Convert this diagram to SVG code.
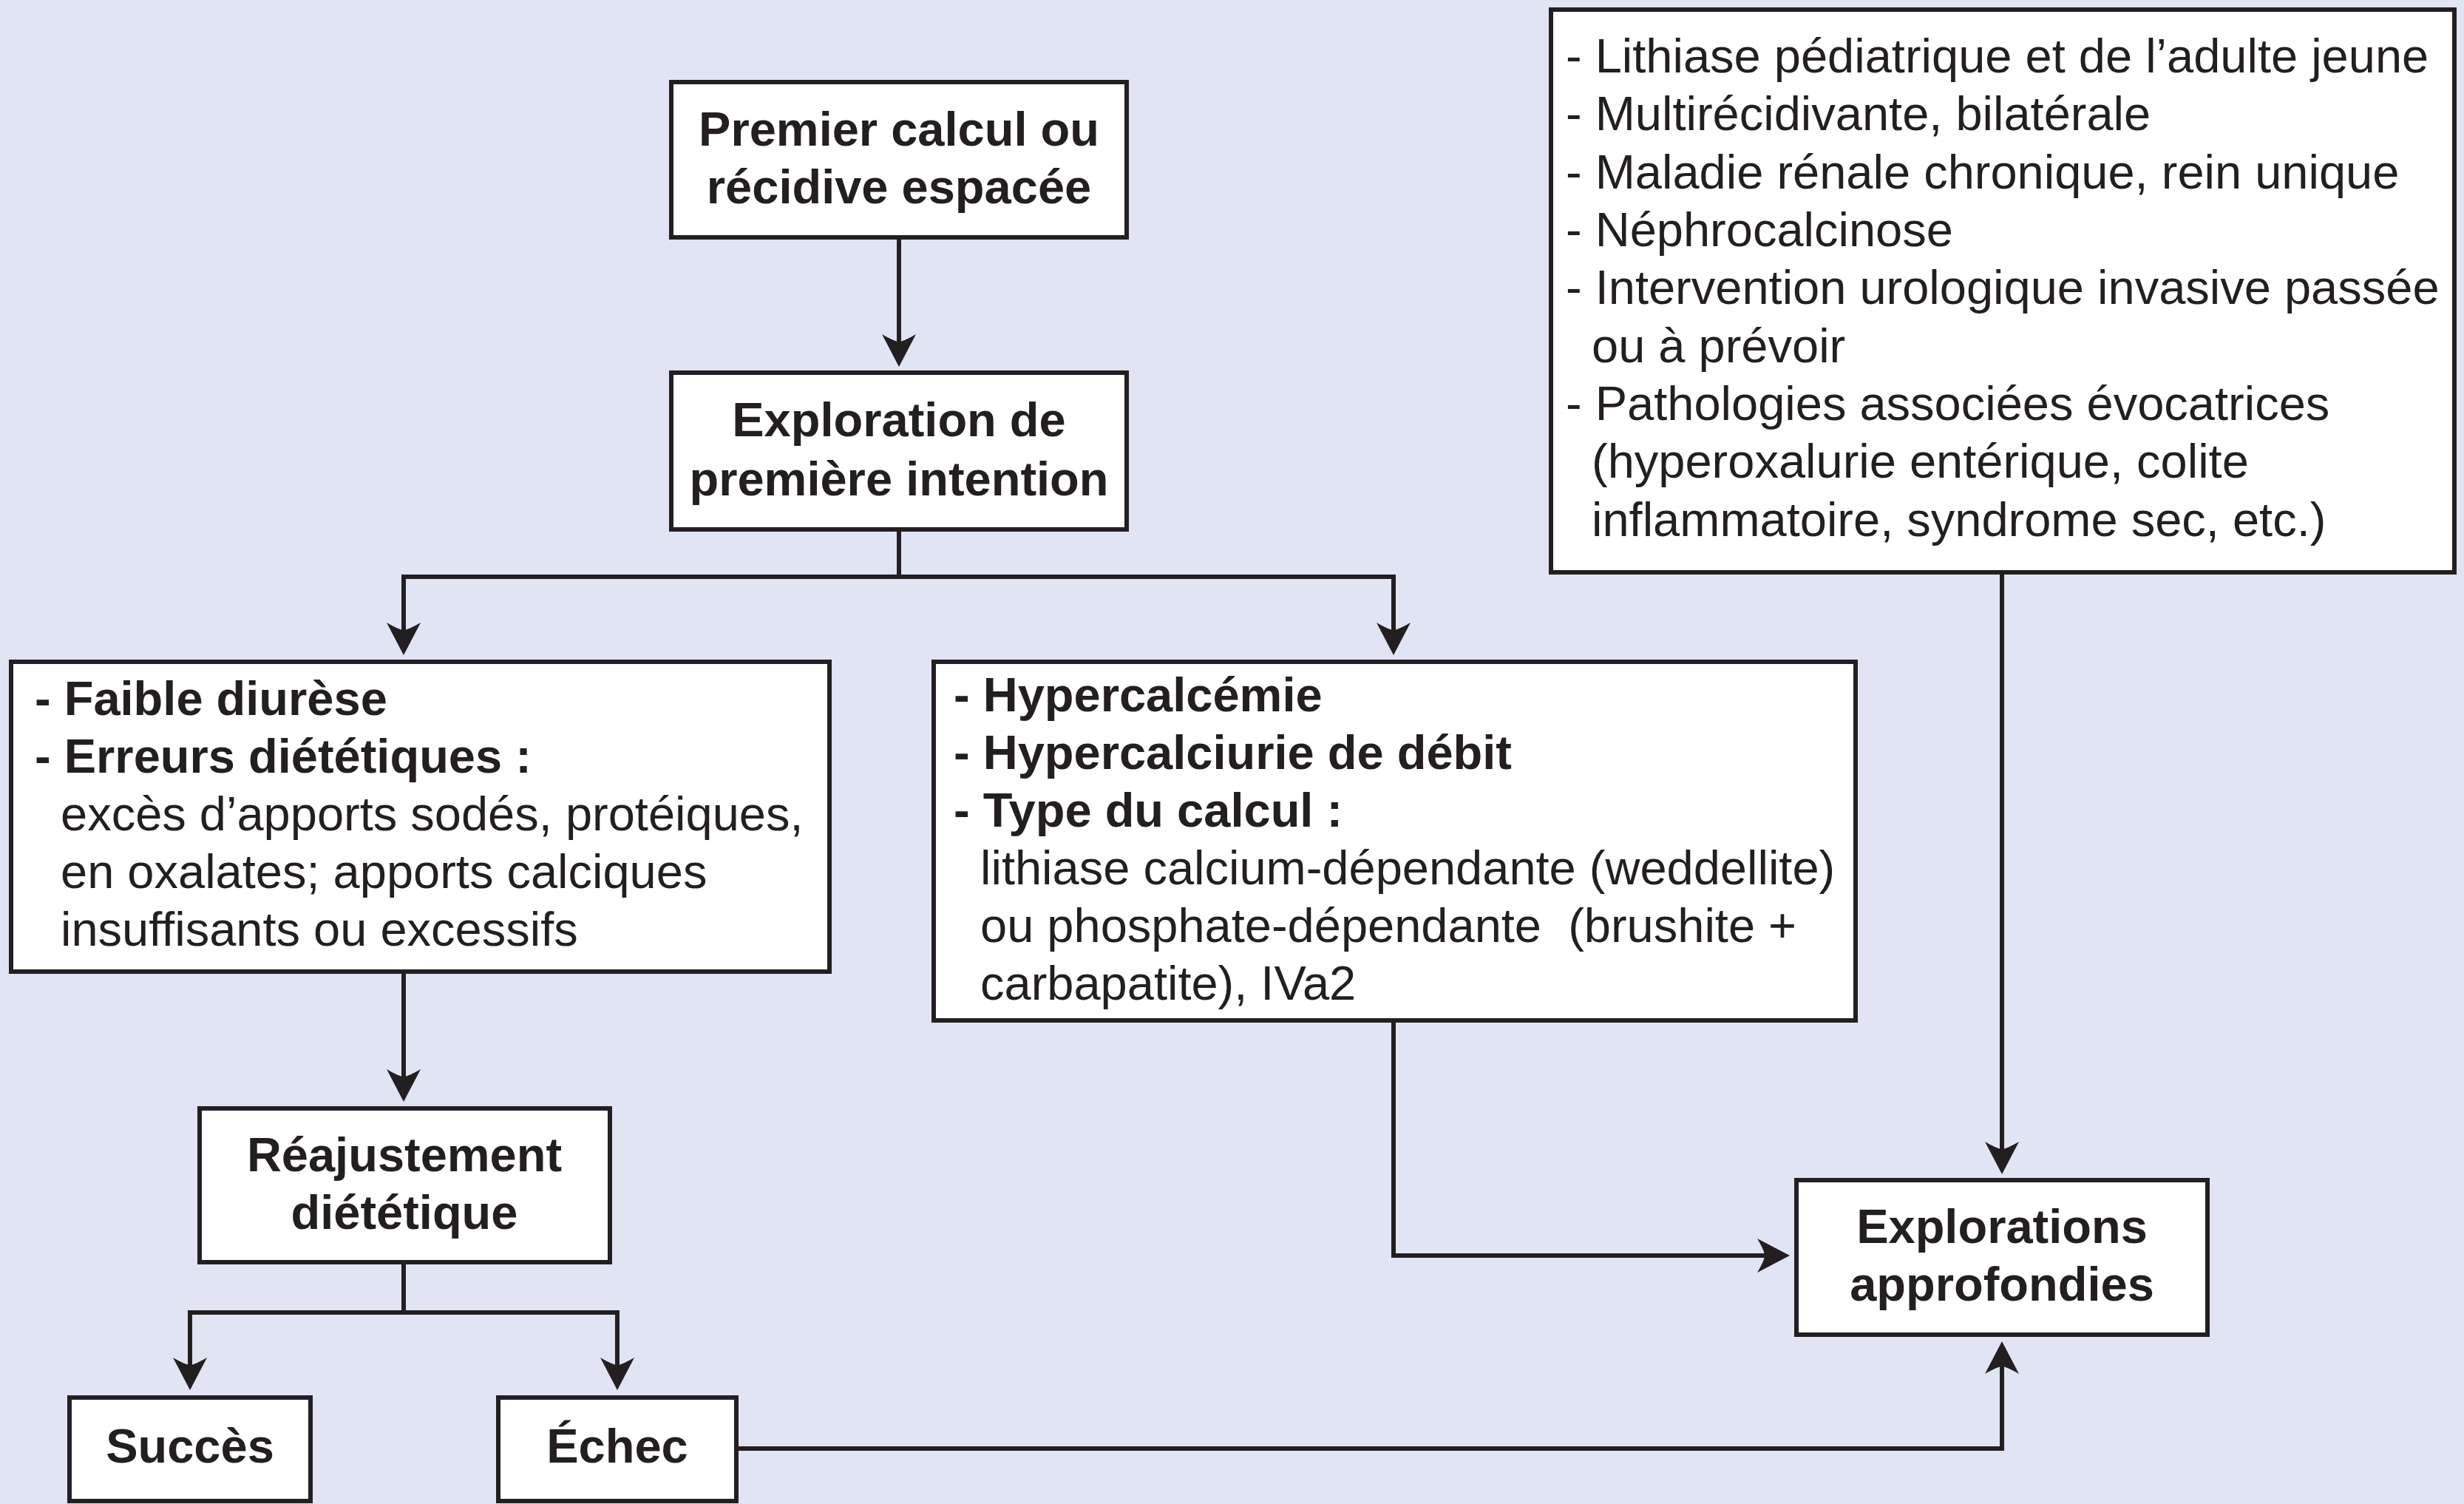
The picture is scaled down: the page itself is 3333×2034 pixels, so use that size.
<svg xmlns="http://www.w3.org/2000/svg" width="3333" height="2034" viewBox="0 0 3333 2034">
<style>
.bx{fill:#ffffff;stroke:#231f20;stroke-width:6}
.cn{fill:none;stroke:#231f20;stroke-width:6;stroke-linejoin:miter}
text{font-family:"Liberation Sans",Arial,sans-serif;fill:#231f20;font-size:65px}
.b{font-weight:bold}
.c{text-anchor:middle}
</style>
<defs>
<marker id="ah" markerUnits="userSpaceOnUse" viewBox="-26 -26 50 52" refX="0" refY="0" markerWidth="50" markerHeight="52" orient="auto">
<path d="M20,0 L-24,-23 Q-14,-6 -14,0 Q-14,6 -24,23 Z" fill="#231f20"/>
</marker>
</defs>
<rect x="0" y="0" width="3333" height="2034" fill="#e0e4f3"/>
<g id="connectors">
<path class="cn" d="M1216,321 V476" marker-end="url(#ah)"/>
<path class="cn" d="M1216,716 V780 H546 V866" marker-end="url(#ah)"/>
<path class="cn" d="M1216,780 H1885 V866" marker-end="url(#ah)"/>
<path class="cn" d="M546,1314 V1470" marker-end="url(#ah)"/>
<path class="cn" d="M546,1707 V1775 H257 V1860" marker-end="url(#ah)"/>
<path class="cn" d="M546,1775 H835 V1860" marker-end="url(#ah)"/>
<path class="cn" d="M1885,1380 V1698 H2401" marker-end="url(#ah)"/>
<path class="cn" d="M2708,774 V1568" marker-end="url(#ah)"/>
<path class="cn" d="M995,1959 H2708 V1834" marker-end="url(#ah)"/>
</g>
<g id="n1">
<rect class="bx" x="908" y="111" width="616" height="210"/>
<text class="b c" x="1216" y="197">Premier calcul ou</text>
<text class="b c" x="1216" y="275">récidive espacée</text>
</g>
<g id="n2">
<rect class="bx" x="908" y="504" width="616" height="212"/>
<text class="b c" x="1216" y="590">Exploration de</text>
<text class="b c" x="1216" y="670">première intention</text>
</g>
<g id="n3">
<rect class="bx" x="15" y="895" width="1107" height="419"/>
<text class="b" x="47" y="967">- Faible diurèse</text>
<text class="b" x="47" y="1045">- Erreurs diététiques :</text>
<text x="82" y="1123">excès d’apports sodés, protéiques,</text>
<text x="82" y="1201">en oxalates; apports calciques</text>
<text x="82" y="1279">insuffisants ou excessifs</text>
</g>
<g id="n4">
<rect class="bx" x="1263" y="895" width="1247" height="485"/>
<text class="b" x="1290" y="962">- Hypercalcémie</text>
<text class="b" x="1290" y="1040">- Hypercalciurie de débit</text>
<text class="b" x="1290" y="1118">- Type du calcul :</text>
<text x="1326" y="1196">lithiase calcium-dépendante (weddellite)</text>
<text x="1326" y="1274" xml:space="preserve">ou phosphate-dépendante  (brushite +</text>
<text x="1326" y="1352">carbapatite), IVa2</text>
</g>
<g id="n5">
<rect class="bx" x="2098" y="13" width="1222" height="761"/>
<text x="2118" y="98">- Lithiase pédiatrique et de l’adulte jeune</text>
<text x="2118" y="176">- Multirécidivante, bilatérale</text>
<text x="2118" y="255">- Maladie rénale chronique, rein unique</text>
<text x="2118" y="333">- Néphrocalcinose</text>
<text x="2118" y="411">- Intervention urologique invasive passée</text>
<text x="2153" y="490">ou à prévoir</text>
<text x="2118" y="568">- Pathologies associées évocatrices</text>
<text x="2153" y="646">(hyperoxalurie entérique, colite</text>
<text x="2153" y="725">inflammatoire, syndrome sec, etc.)</text>
</g>
<g id="n6">
<rect class="bx" x="270" y="1499" width="555" height="208"/>
<text class="b c" x="547" y="1584">Réajustement</text>
<text class="b c" x="547" y="1662">diététique</text>
</g>
<g id="n7">
<rect class="bx" x="94" y="1890" width="326" height="140"/>
<text class="b c" x="257" y="1978">Succès</text>
</g>
<g id="n8">
<rect class="bx" x="674" y="1890" width="322" height="140"/>
<text class="b c" x="835" y="1978">Échec</text>
</g>
<g id="n9">
<rect class="bx" x="2430" y="1596" width="556" height="209"/>
<text class="b c" x="2708" y="1681">Explorations</text>
<text class="b c" x="2708" y="1759">approfondies</text>
</g>
</svg>
